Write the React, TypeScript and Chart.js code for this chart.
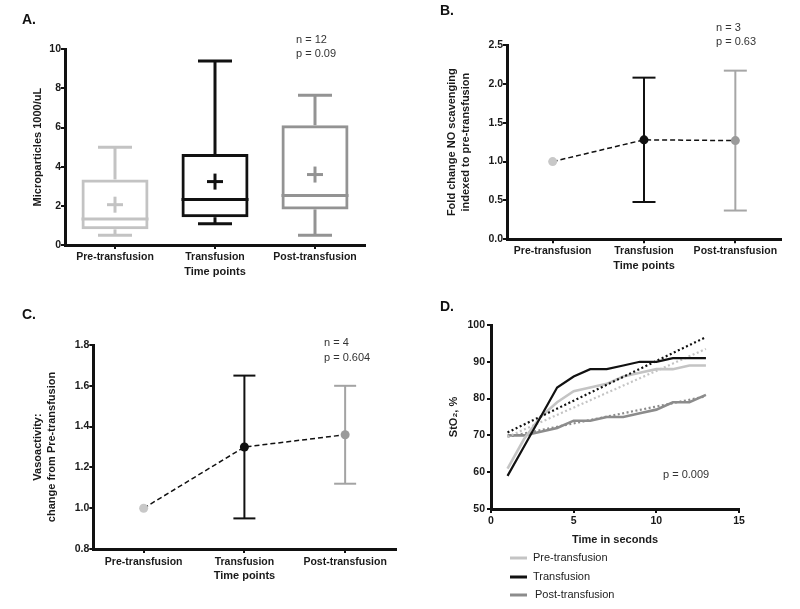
import React, { useEffect, useRef } from "react";
import { Chart, registerables } from "chart.js";
Chart.register(...registerables);

const FONT = "'Liberation Sans', Arial, Helvetica, sans-serif";

// ---------- Panel A: microparticles box plot ----------
const timePoints = ["Pre-transfusion", "Transfusion", "Post-transfusion"];
const mpWhiskerLow = [0.5, 1.08, 0.5];
const mpQ1 = [0.8, 1.42, 1.82];
const mpMedian = [1.33, 2.32, 2.53];
const mpQ3 = [3.35, 4.65, 6.12];
const mpWhiskerHigh = [5.0, 9.4, 7.65];
const mpMean = [2.06, 3.24, 3.6];
const boxColors = ["#c3c3c3", "#111111", "#939393"];

// ---------- Panel B: NO scavenging ----------
const noMean = [1.0, 1.28, 1.27];
const noLow: (number | null)[] = [null, 0.48, 0.37];
const noHigh: (number | null)[] = [null, 2.08, 2.17];
const noColors = ["#c8c8c8", "#111111", "#9a9a9a"];
const noBarColors = ["#c8c8c8", "#111111", "#a6a6a6"];

// ---------- Panel C: vasoactivity ----------
const vasoMean = [1.0, 1.3, 1.36];
const vasoLow: (number | null)[] = [null, 0.95, 1.12];
const vasoHigh: (number | null)[] = [null, 1.65, 1.6];
const vasoColors = ["#c8c8c8", "#111111", "#9a9a9a"];
const vasoBarColors = ["#c8c8c8", "#111111", "#a3a3a3"];

// ---------- Panel D: StO2 over time ----------
const seconds = [1, 2, 3, 4, 5, 6, 7, 8, 9, 10, 11, 12, 13];
const sto2Pre = [61, 69, 75, 79, 82, 83, 84, 86, 87, 88, 88, 89, 89];
const sto2Trans = [59, 67, 75, 83, 86, 88, 88, 89, 90, 90, 91, 91, 91];
const sto2Post = [70, 70, 71, 72, 74, 74, 75, 75, 76, 77, 79, 79, 81];
const trendSeconds = [1, 13];
const trendPre = [69.6, 93.5];
const trendTrans = [70.8, 96.7];
const trendPost = [69.6, 80.6];
const seriesNames = ["Pre-transfusion", "Transfusion", "Post-transfusion"];
const seriesColors = ["#c4c4c4", "#111111", "#8c8c8c"];

type Txt = { text: string; x: number; y: number; font: string; color?: string; align?: CanvasTextAlign };

const textPlugin = (items: Txt[]) => ({
  id: "texts",
  afterDraw(chart: any) {
    const ctx = chart.ctx as CanvasRenderingContext2D;
    ctx.save();
    items.forEach((t) => {
      ctx.font = t.font;
      ctx.fillStyle = t.color ?? "#222";
      ctx.textAlign = t.align ?? "left";
      ctx.textBaseline = "middle";
      ctx.fillText(t.text, t.x, t.y);
    });
    ctx.restore();
  },
});

const tickFont = { family: FONT, size: 10.5, weight: "bold" as const };
const titleFont = { family: FONT, size: 11, weight: "bold" as const, lineHeight: 1.25 };
const letterFont = `bold 14px ${FONT}`;
const noteFont = `11px ${FONT}`;

function axis(extra: any) {
  return {
    grid: { drawOnChartArea: false, drawTicks: true, tickLength: 4, color: "#111", lineWidth: 2, offset: false },
    border: { display: true, color: "#111", width: 3 },
    ...extra,
    ticks: { color: "#1a1a1a", font: tickFont, ...(extra.ticks || {}) },
  };
}

function line(ctx: CanvasRenderingContext2D, x1: number, y1: number, x2: number, y2: number) {
  ctx.beginPath();
  ctx.moveTo(x1, y1);
  ctx.lineTo(x2, y2);
  ctx.stroke();
}

const boxPlugin = {
  id: "boxWhiskers",
  afterDatasetsDraw(chart: any) {
    const ctx = chart.ctx as CanvasRenderingContext2D;
    const { x, y } = chart.scales;
    const meta = chart.getDatasetMeta(0);
    ctx.save();
    ctx.lineWidth = 3;
    timePoints.forEach((_, i) => {
      const cx = x.getPixelForValue(i);
      const half = (meta.data[i] as any).width / 2;
      const cap = 17;
      ctx.strokeStyle = boxColors[i];
      const yLo = y.getPixelForValue(mpWhiskerLow[i]);
      const yQ1 = y.getPixelForValue(mpQ1[i]);
      const yMed = y.getPixelForValue(mpMedian[i]);
      const yQ3 = y.getPixelForValue(mpQ3[i]);
      const yHi = y.getPixelForValue(mpWhiskerHigh[i]);
      const yMean = y.getPixelForValue(mpMean[i]);
      line(ctx, cx, yQ1, cx, yLo);
      line(ctx, cx, yQ3, cx, yHi);
      line(ctx, cx - cap, yLo, cx + cap, yLo);
      line(ctx, cx - cap, yHi, cx + cap, yHi);
      line(ctx, cx - half, yMed, cx + half, yMed);
      line(ctx, cx - 8, yMean, cx + 8, yMean);
      line(ctx, cx, yMean - 8, cx, yMean + 8);
    });
    ctx.restore();
  },
};

const errorBarPlugin = (lows: (number | null)[], highs: (number | null)[], colors: string[], cap: number) => ({
  id: "errorBars",
  beforeDatasetsDraw(chart: any) {
    const ctx = chart.ctx as CanvasRenderingContext2D;
    const { x, y } = chart.scales;
    ctx.save();
    ctx.lineWidth = 2;
    lows.forEach((lo, i) => {
      const hi = highs[i];
      if (lo == null || hi == null) return;
      const cx = x.getPixelForValue(i);
      const yl = y.getPixelForValue(lo);
      const yh = y.getPixelForValue(hi);
      ctx.strokeStyle = colors[i];
      line(ctx, cx, yl, cx, yh);
      line(ctx, cx - cap, yl, cx + cap, yl);
      line(ctx, cx - cap, yh, cx + cap, yh);
    });
    ctx.restore();
  },
});

const legendPlugin = {
  id: "sideLegend",
  afterDraw(chart: any) {
    const ctx = chart.ctx as CanvasRenderingContext2D;
    const ys = [258, 277, 295];
    ctx.save();
    seriesNames.forEach((name, i) => {
      ctx.strokeStyle = seriesColors[i];
      ctx.lineWidth = 3;
      line(ctx, 110, ys[i], 127, ys[i]);
      ctx.font = noteFont;
      ctx.fillStyle = "#222";
      ctx.textAlign = "left";
      ctx.textBaseline = "middle";
      ctx.fillText(name, i === 2 ? 135 : 133, ys[i]);
    });
    ctx.restore();
  },
};

const base = {
  animation: false,
  responsive: false,
  events: [] as any[],
};

function makeA(): any {
  return {
    type: "bar",
    data: {
      labels: timePoints,
      datasets: [
        {
          data: timePoints.map((_, i) => [mpQ1[i], mpQ3[i]]),
          backgroundColor: "rgba(0,0,0,0)",
          borderColor: boxColors,
          borderWidth: 3,
          borderSkipped: false,
          barPercentage: 0.67,
          categoryPercentage: 1,
        },
      ],
    },
    options: {
      ...base,
      layout: { padding: { top: 49.3, left: 27.4, right: 35, bottom: 17.4 } },
      plugins: { legend: { display: false }, tooltip: { enabled: false } },
      scales: {
        x: axis({
          offset: true,
          ticks: { padding: 2 },
          title: { display: true, text: "Time points", font: titleFont, color: "#1a1a1a", padding: { top: 4, bottom: 4 } },
          afterFit: (s: any) => { s.height = 37.6; },
        }),
        y: axis({
          min: 0,
          max: 10,
          ticks: { stepSize: 2, padding: 0 },
          title: { display: true, text: "Microparticles 1000/uL", font: titleFont, color: "#1a1a1a", padding: { top: 4, bottom: 4 } },
          afterFit: (s: any) => { s.width = 37.6; },
        }),
      },
    },
    plugins: [
      boxPlugin,
      textPlugin([
        { text: "A.", x: 22, y: 20, font: letterFont, color: "#111" },
        { text: "n = 12", x: 296, y: 40, font: noteFont, color: "#333" },
        { text: "p = 0.09", x: 296, y: 53.5, font: noteFont, color: "#333" },
      ]),
    ],
  };
}

function makeB(): any {
  return {
    type: "line",
    data: {
      labels: timePoints,
      datasets: [
        {
          data: noMean,
          borderColor: "#111",
          borderWidth: 1.5,
          borderDash: [5, 3],
          pointRadius: 4.5,
          pointBackgroundColor: noColors,
          pointBorderColor: noColors,
          pointBorderWidth: 0,
          tension: 0,
          fill: false,
        },
      ],
    },
    options: {
      ...base,
      layout: { padding: { top: 45, left: 41.1, right: 19, bottom: 22.7 } },
      plugins: { legend: { display: false }, tooltip: { enabled: false } },
      scales: {
        x: axis({
          offset: true,
          ticks: { padding: 2 },
          title: { display: true, text: "Time points", font: titleFont, color: "#1a1a1a", padding: { top: 4, bottom: 4 } },
          afterFit: (s: any) => { s.height = 38; },
        }),
        y: axis({
          min: 0,
          max: 2.5,
          ticks: { stepSize: 0.5, padding: 0, callback: (v: any) => Number(v).toFixed(1) },
          title: {
            display: true,
            text: ["Fold change NO scavenging", "indexed to pre-transfusion"],
            font: titleFont,
            color: "#1a1a1a",
            padding: { top: 4, bottom: 4 },
          },
          afterFit: (s: any) => { s.width = 65.9; },
        }),
      },
    },
    plugins: [
      errorBarPlugin(noLow, noHigh, noBarColors, 11.5),
      textPlugin([
        { text: "B.", x: 40, y: 11, font: letterFont, color: "#111" },
        { text: "n = 3", x: 316, y: 28.3, font: noteFont, color: "#333" },
        { text: "p = 0.63", x: 316, y: 41.7, font: noteFont, color: "#333" },
      ]),
    ],
  };
}

function makeC(): any {
  return {
    type: "line",
    data: {
      labels: timePoints,
      datasets: [
        {
          data: vasoMean,
          borderColor: "#111",
          borderWidth: 1.5,
          borderDash: [5, 3],
          pointRadius: 4.5,
          pointBackgroundColor: vasoColors,
          pointBorderColor: vasoColors,
          pointBorderWidth: 0,
          tension: 0,
          fill: false,
        },
      ],
    },
    options: {
      ...base,
      layout: { padding: { top: 45, left: 27.4, right: 1, bottom: 21.7 } },
      plugins: { legend: { display: false }, tooltip: { enabled: false } },
      scales: {
        x: axis({
          offset: true,
          ticks: { padding: 2.4 },
          title: { display: true, text: "Time points", font: titleFont, color: "#1a1a1a", padding: { top: 4, bottom: 4 } },
          afterFit: (s: any) => { s.height = 38.3; },
        }),
        y: axis({
          min: 0.8,
          max: 1.8,
          ticks: { stepSize: 0.2, padding: 0, callback: (v: any) => Number(v).toFixed(1) },
          title: {
            display: true,
            text: ["Vasoactivity:", "change from Pre-transfusion"],
            font: titleFont,
            color: "#1a1a1a",
            padding: { top: 4, bottom: 4 },
          },
          afterFit: (s: any) => { s.width = 65.9; },
        }),
      },
    },
    plugins: [
      errorBarPlugin(vasoLow, vasoHigh, vasoBarColors, 11),
      textPlugin([
        { text: "C.", x: 22, y: 15, font: letterFont, color: "#111" },
        { text: "n = 4", x: 324, y: 43.3, font: noteFont, color: "#333" },
        { text: "p = 0.604", x: 324, y: 58.3, font: noteFont, color: "#333" },
      ]),
    ],
  };
}

function xy(xs: number[], ys: number[]) {
  return xs.map((x, i) => ({ x, y: ys[i] }));
}

function makeD(): any {
  const solid = (data: number[], color: string, w: number) => ({
    data: xy(seconds, data),
    borderColor: color,
    borderWidth: w,
    pointRadius: 0,
    tension: 0,
    fill: false,
  });
  const dotted = (data: number[], color: string) => ({
    data: xy(trendSeconds, data),
    borderColor: color,
    borderWidth: 2.2,
    borderDash: [2, 2.5],
    pointRadius: 0,
    tension: 0,
    fill: false,
  });
  return {
    type: "line",
    data: {
      datasets: [
        solid(sto2Trans, seriesColors[1], 2.2),
        dotted(trendTrans, seriesColors[1]),
        solid(sto2Pre, seriesColors[0], 2.6),
        dotted(trendPre, seriesColors[0]),
        solid(sto2Post, seriesColors[2], 2.6),
        dotted(trendPost, seriesColors[2]),
      ],
    },
    options: {
      ...base,
      layout: { padding: { top: 25, left: 42.7, right: 61, bottom: 58.4 } },
      plugins: { legend: { display: false }, tooltip: { enabled: false } },
      scales: {
        x: axis({
          type: "linear",
          min: 0,
          max: 15,
          ticks: { stepSize: 5, padding: 1.4 },
          title: { display: true, text: "Time in seconds", font: titleFont, color: "#1a1a1a", padding: { top: 4, bottom: 4 } },
          afterFit: (s: any) => { s.height = 41.6; },
        }),
        y: axis({
          min: 50,
          max: 100,
          ticks: { stepSize: 10, padding: 2 },
          title: { display: true, text: "StO\u2082, %", font: titleFont, color: "#1a1a1a", padding: { top: 4, bottom: 4 } },
          afterFit: (s: any) => { s.width = 48.3; },
        }),
      },
    },
    plugins: [
      legendPlugin,
      textPlugin([
        { text: "D.", x: 40, y: 7.5, font: letterFont, color: "#111" },
        { text: "p = 0.009", x: 263, y: 175, font: noteFont, color: "#333" },
      ]),
    ],
  };
}

function ChartPanel(props: { left: number; top: number; width: number; height: number; make: () => any }) {
  const ref = useRef<HTMLCanvasElement>(null);
  useEffect(() => {
    const chart = new Chart(ref.current as HTMLCanvasElement, props.make());
    return () => chart.destroy();
  }, []);
  return (
    <canvas
      ref={ref}
      width={props.width}
      height={props.height}
      style={{ position: "absolute", left: props.left, top: props.top, width: props.width, height: props.height }}
    />
  );
}

export default function App() {
  return (
    <div style={{ position: "fixed", left: 0, top: 0, width: 800, height: 609, background: "#ffffff", overflow: "hidden" }}>
      <ChartPanel left={0} top={0} width={400} height={300} make={makeA} />
      <ChartPanel left={400} top={0} width={400} height={300} make={makeB} />
      <ChartPanel left={0} top={300} width={400} height={309} make={makeC} />
      <ChartPanel left={400} top={300} width={400} height={309} make={makeD} />
    </div>
  );
}
